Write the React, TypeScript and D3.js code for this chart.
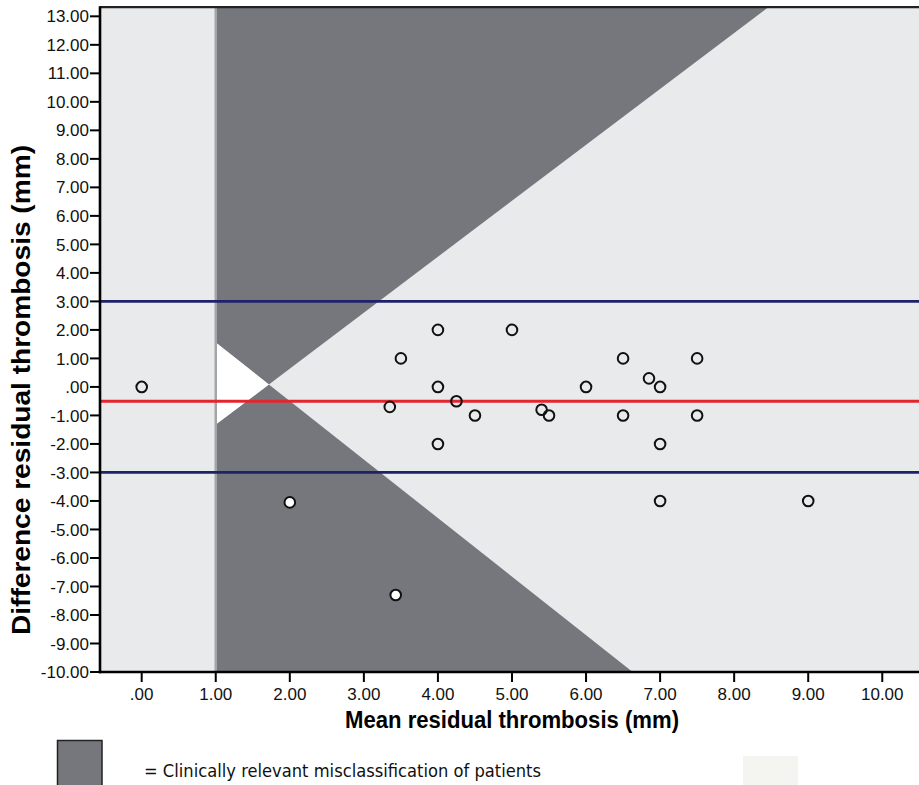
import React from "react";
import * as d3 from "d3";

// ---- data ----
const meanValues = [0, 2, 3.43, 3.35, 3.5, 4, 4, 4, 4.25, 4.5, 5, 5.4, 5.5, 6, 6.5, 6.5, 6.85, 7, 7, 7, 7.5, 7.5, 9];
const diffValues = [0, -4.05, -7.3, -0.7, 1, 2, 0, -2, -0.5, -1, 2, -0.8, -1, 0, 1, -1, 0.3, 0, -2, -4, 1, -1, -4];

const meanDifference = -0.5;
const limitsOfAgreement = [3, -3];

// misclassification boundary lines (data coords): [x, y] endpoints
const risingLine: [number, number][] = [[1, -1.32], [8.46, 13.32]];
const fallingLine: [number, number][] = [[1, 1.56], [6.63, -10]];
const regionStartX = 1;

const xTicks = [0, 1, 2, 3, 4, 5, 6, 7, 8, 9, 10];
const yTicks = [13, 12, 11, 10, 9, 8, 7, 6, 5, 4, 3, 2, 1, 0, -1, -2, -3, -4, -5, -6, -7, -8, -9, -10];

const xTitle = "Mean residual thrombosis (mm)";
const yTitle = "Difference residual thrombosis (mm)";
const legendText = "= Clinically relevant misclassification of patients";

const xDomain = [-0.563, 10.5];
const yDomain = [-10, 13.32];

function intersect(a: [number, number][], b: [number, number][]): [number, number] {
  const [[x1, y1], [x2, y2]] = a;
  const [[x3, y3], [x4, y4]] = b;
  const m1 = (y2 - y1) / (x2 - x1);
  const m2 = (y4 - y3) / (x4 - x3);
  const x = (y3 - y1 + m1 * x1 - m2 * x3) / (m1 - m2);
  return [x, y1 + m1 * (x - x1)];
}

const fmt = (v: number) => {
  const s = d3.format(".2f")(v).replace("\u2212", "-");
  return s.replace(/^0\./, ".").replace(/^-0\./, "-.");
};

export default function App() {
  const W = 919, H = 785;
  const x = d3.scaleLinear().domain(xDomain).range([100, 919.3]);
  const y = d3.scaleLinear().domain(yDomain).range([672, 7.2]);

  const cross = intersect(risingLine, fallingLine);
  const yTop = yDomain[1], yBot = yDomain[0];
  const topDark: [number, number][] = [[regionStartX, yTop], fallingLine[0], cross, risingLine[1]];
  const botDark: [number, number][] = [[regionStartX, yBot], risingLine[0], cross, fallingLine[1]];
  const whiteTri: [number, number][] = [fallingLine[0], cross, risingLine[0]];

  const toPath = (pts: [number, number][]) =>
    "M" + pts.map(([a, b]) => `${x(a)},${y(b)}`).join("L") + "Z";

  const points = meanValues.map((m, i) => {
    const d = diffValues[i];
    const inDark = d3.polygonContains(topDark, [m, d]) || d3.polygonContains(botDark, [m, d]);
    return { m, d, inDark };
  });

  const lightBg = "#e9eaec";
  const darkGray = "#76777c";
  const font = "'Liberation Sans', Arial, sans-serif";

  return (
    <div style={{ position: "absolute", left: 0, top: 0 }}>
      <svg width={W} height={H} style={{ display: "block", background: "#ffffff" }}>
        {/* plot background */}
        <rect x={x(xDomain[0])} y={y(yTop)} width={x(xDomain[1]) - x(xDomain[0])} height={y(yBot) - y(yTop)} fill={lightBg} />
        <path d={toPath(topDark)} fill={darkGray} />
        <path d={toPath(botDark)} fill={darkGray} />
        <path d={toPath(whiteTri)} fill="#ffffff" />
        <line x1={x(regionStartX)} x2={x(regionStartX)} y1={y(yTop)} y2={y(yBot)} stroke="#a3a5a9" strokeWidth={2.5} />

        {/* reference lines */}
        {limitsOfAgreement.map((v) => (
          <line key={v} x1={x(xDomain[0])} x2={W} y1={y(v)} y2={y(v)} stroke="#1e2268" strokeWidth={2.8} />
        ))}
        <line x1={x(xDomain[0])} x2={W} y1={y(meanDifference)} y2={y(meanDifference)} stroke="#e3262d" strokeWidth={3} />

        {/* points */}
        {points.map((p, i) => (
          <circle key={i} cx={x(p.m)} cy={y(p.d)} r={5.3} fill={p.inDark ? "#ffffff" : "none"} stroke="#111" strokeWidth={2} />
        ))}

        {/* frame */}
        <line x1={x(xDomain[0])} x2={W} y1={y(yTop)} y2={y(yTop)} stroke="#222" strokeWidth={2.2} />
        <line x1={x(xDomain[0])} x2={x(xDomain[0])} y1={y(yTop) - 1} y2={y(yBot) + 1.2} stroke="#000" strokeWidth={2.6} />
        <line x1={x(xDomain[0]) - 1.2} x2={W} y1={y(yBot)} y2={y(yBot)} stroke="#000" strokeWidth={2.6} />

        {/* y ticks */}
        {yTicks.map((t) => (
          <g key={t}>
            <line x1={90} x2={x(xDomain[0])} y1={y(t)} y2={y(t)} stroke="#000" strokeWidth={2} />
            <text x={89} y={y(t)} dy="0.36em" textAnchor="end" fontFamily={font} fontSize={17} fill="#111">{fmt(t)}</text>
          </g>
        ))}
        {/* x ticks */}
        {xTicks.map((t) => (
          <g key={t}>
            <line x1={x(t)} x2={x(t)} y1={y(yBot)} y2={y(yBot) + 10} stroke="#000" strokeWidth={2} />
            <text x={x(t)} y={700} textAnchor="middle" fontFamily={font} fontSize={17} fill="#111">{fmt(t)}</text>
          </g>
        ))}

        {/* axis titles */}
        <text x={512} y={728} textAnchor="middle" fontFamily={font} fontWeight="bold" fontSize={24} fill="#000"
          textLength={334} lengthAdjust="spacingAndGlyphs">{xTitle}</text>
        <text transform={`translate(30,${390}) rotate(-90)`} textAnchor="middle" fontFamily={font} fontWeight="bold" fontSize={25} fill="#000"
          textLength={490} lengthAdjust="spacingAndGlyphs">{yTitle}</text>

        {/* legend */}
        <rect x={57.5} y={740.5} width={44.5} height={50} fill={darkGray} stroke="#222" strokeWidth={1.5} />
        <text x={144} y={777} fontFamily="'DejaVu Sans', Verdana, sans-serif" fontSize={17} fill="#111"
          textLength={397} lengthAdjust="spacingAndGlyphs">{legendText}</text>
        <rect x={743} y={756} width={55} height={35} fill="#f4f4f0" />
      </svg>
    </div>
  );
}
